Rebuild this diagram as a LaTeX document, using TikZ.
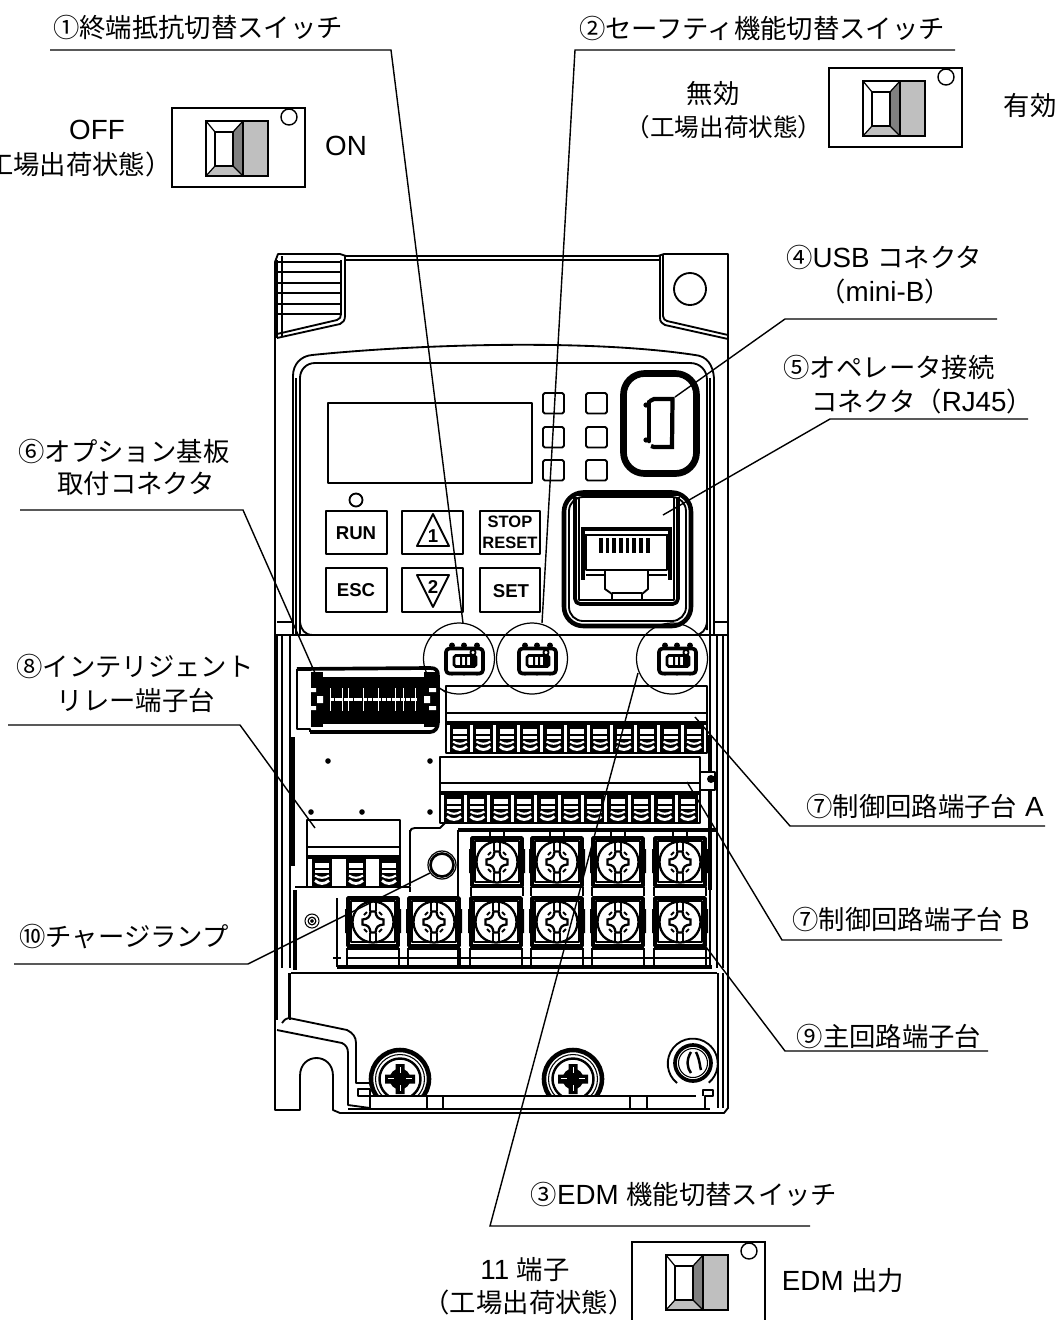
\documentclass[tikz,border=0pt]{standalone}
\usepackage{fontspec}
\setmainfont{Liberation Sans}
\newfontfamily\cjk{Noto Sans CJK JP}
\newcommand{\jp}[1]{{\fontsize{15}{18}\selectfont\cjk #1}}
\newcommand{\jq}[1]{{\fontsize{14}{18}\selectfont\cjk #1}}
\tikzset{
  lbl/.style={inner sep=0pt, font=\fontsize{15.8}{18}\selectfont},
  btn/.style={inner sep=0pt, font=\fontsize{10.6}{12}\selectfont\bfseries},
  btns/.style={inner sep=0pt, font=\fontsize{9.4}{11}\selectfont\bfseries},
  leader/.style={line width=0.8pt},
  body/.style={line width=1.05pt, line join=round},
  thin/.style={line width=0.6pt, line join=round},
  heavy/.style={line width=2.1pt, line join=round},
}
% big slide switch, (#1,#2) is the upper left corner of its box
\newcommand{\bigswitch}[2]{
\begin{scope}[shift={(#1,#2)}]
\draw[line width=0.9pt] (0,0) rectangle (133,79);
\draw[line width=0.8pt] (117,9) circle (8);
\fill[gray!50] (71,13) rectangle (96,68);
\fill[gray!100] (61,24) -- (71,13) -- (71,68) -- (61,58) -- cycle;
\fill[gray!50] (43,58) -- (61,58) -- (71,68) -- (34,68) -- cycle;
\draw[line width=0.9pt] (34,13) rectangle (96,68);
\draw[line width=1.3pt] (34,13) rectangle (71,68);
\draw[line width=0.9pt] (43,24) rectangle (61,58);
\draw[line width=0.7pt] (34,13) -- (43,24) (71,13) -- (61,24) (34,68) -- (43,58) (71,68) -- (61,58);
\end{scope}
}
% small switch in its circle, (#1,#2) is the circle centre
\newcommand{\smallswitch}[2]{
\begin{scope}[shift={(#1,#2)}]
\draw[line width=0.7pt] (0,0) circle (35.5);
\foreach \px in {-7,5,18} {
  \fill (\px,-13) circle (3);
  \fill (\px,14) circle (3);
}
\draw[heavy, fill=white, rounded corners=2] (-13,-10) rectangle (24,15);
\draw[line width=1.5pt, rounded corners=1] (-5,-3) rectangle (17,8);
\fill (1,-3) rectangle (3,8) (6,-3) rectangle (8,8) (11,-3) rectangle (17,8);
\draw[body, fill=white] (14,-6) circle (2.6);
\end{scope}
}
% one cell of a control terminal block, (#1,#2) is its upper left corner
\newcommand{\tmcell}[2]{
\begin{scope}[shift={(#1,#2)}]
\fill (1.5,0) rectangle (22,29);
\fill[white] (5,5) rectangle (19,9.5);
\fill[white] (5,12) rectangle (19,14.5);
\draw[white, line width=1.2pt] (5,17.5) .. controls (9,20.5) and (15,20.5) .. (19,17.5);
\draw[white, line width=1.6pt] (5,22.5) .. controls (9,26.5) and (15,26.5) .. (19,22.5);
\end{scope}
}
% terminal screw of the main circuit block, (#1,#2) is the screw centre
\newcommand{\mainscrew}[2]{
\begin{scope}[shift={(#1,#2)}]
\draw[heavy] (-25,-24) rectangle (25,24);
\draw[thin] (-22,-21) rectangle (22,20);
\fill (-28,-13) rectangle (-25,11) (25,-13) rectangle (28,11);
\draw[line width=1.3pt, fill=white] (0,0) circle (20.5);
\draw[body] (-3,-20) -- (-3,-11) (3,-20) -- (3,-11) (-3,20) -- (-3,11) (3,20) -- (3,11);
\draw[line width=1.3pt, fill=white] (-2.5,-10.5) -- (2.5,-10.5) .. controls (3,-5) and (5,-3) .. (10.5,-2.5) -- (10.5,2.5)
  .. controls (5,3) and (3,5) .. (2.5,10.5) -- (-2.5,10.5) .. controls (-3,5) and (-5,3) .. (-10.5,2.5) -- (-10.5,-2.5)
  .. controls (-5,-3) and (-3,-5) .. (-2.5,-10.5) -- cycle;
\draw[body] (-9,-7) -- (-6,-10) (9,-7) -- (6,-10) (-9,7) -- (-6,10) (9,7) -- (6,10);
\end{scope}
}
% cross head screw of the bottom flange, (#1,#2) is the screw centre
\newcommand{\flangescrew}[2]{
\begin{scope}[shift={(#1,#2)}]
\begin{scope}
\clip (-40,-40) rectangle (40,17);
\draw[line width=2.6pt] (0,0) circle (29);
\draw[thin] (0,0) circle (24.5);
\draw[line width=1.4pt] (0,0) circle (20.5);
\end{scope}
\fill (-15,-4.5) rectangle (15,4.5) (-4.5,-15) rectangle (4.5,15);
\fill (0,0) circle (10.5);
\draw[white, line width=0.5pt] (-12,-1) -- (-6,-1) (6,-1) -- (12,-1) (0,-12) -- (0,-6) (0,6) -- (0,12);
\end{scope}
}
\begin{document}
\begin{tikzpicture}[x=0.02cm,y=-0.02cm]
\useasboundingbox (0,0) rectangle (1059,1320);

% body outline
\draw[body] (275,262) -- (275,1110) -- (300,1110) -- (300,1076) .. controls (300,1052) and (333,1052) .. (333,1076) -- (333,1110) -- (340,1113) -- (724,1113) -- (728,1108) -- (728,254) -- (664,254) -- (658,256) -- (346,256) -- (340,254) -- (278,254) -- cycle;
\draw[body] (277,260) -- (277,338);
\draw[body] (345,260) -- (660,260);
\draw[body] (345,256) -- (345,316) .. controls (345,320) and (343,323) .. (340,324) -- (277,338);
\draw[body] (341,260) -- (341,314) .. controls (341,317) and (340,319) .. (337,320) -- (277,334);
\foreach \hy in {262,272,283,293,304,314} {
  \draw[body] (278,\hy) -- (342,\hy);
}
\draw[body] (282,256) -- (282,336);
% corner with the mounting hole
\draw[body] (660,256) -- (660,318) .. controls (660,322) and (662,323) .. (665,325) -- (728,339);
\draw[body] (663,254) -- (663,316) .. controls (663,319) and (665,320) .. (667,321) -- (728,335);
\draw[body] (690,289) circle (16);

% panel
\draw[body] (293,635) -- (293,376) .. controls (293,364) and (301,356) .. (312,355) .. controls (420,344) and (590,339) .. (695,355) .. controls (707,356) and (713,365) .. (714,378) -- (714,635);
\draw[body] (300,635) -- (300,378) .. controls (300,370) and (306,363) .. (315,363) -- (690,363) .. controls (700,363) and (707,370) .. (707,380) -- (707,630);
\draw[body] (296,378) -- (296,635) (710,378) -- (710,635);
\draw[body] (300,622) .. controls (301,630) and (305,635) .. (313,635);
\draw[body] (707,622) .. controls (706,630) and (702,635) .. (694,635);
\draw[body] (275,635) -- (728,635);
\draw[body] (277,622) -- (293,622) (714,622) -- (728,622);
\draw[body] (328,403) rectangle (532,483);
\foreach \ly in {393,427,460} {
  \draw[body, rounded corners=1] (543,\ly) rectangle (564,\ly+20.5);
  \draw[body, rounded corners=1] (586,\ly) rectangle (607,\ly+20.5);
}
\draw[body] (356,500) circle (6.5);

% keys
\draw[body] (326,511) rectangle (387,554);
\draw[body] (402,511) rectangle (463,554);
\draw[body] (480,511) rectangle (540,554);
\draw[body] (326,568) rectangle (387,612);
\draw[body] (402,568) rectangle (463,612);
\draw[body] (480,568) rectangle (540,612);
\node[btn] (runkey) at (356,533) {RUN};
\node[btn] (esckey) at (356,590) {ESC};
\node[btn] (setkey) at (511,591) {SET};
\node[btns] (stopkey) at (510,522) {STOP};
\node[btns] (resetkey) at (510,543) {RESET};
\draw[body] (433,514) -- (449,546) -- (417,546) -- cycle;
\draw[body] (417,575) -- (449,575) -- (433,607) -- cycle;
\node[btn] (upkey) at (433,536) {1};
\node[btn] (downkey) at (433,587) {2};

% USB connector
\draw[line width=3.8pt, rounded corners=12] (623.5,373.5) rectangle (696.5,473.5);
\draw[line width=2.6pt, line cap=round] (649,402) -- (649,441);
\draw[line width=2.4pt] (651,446) -- (654,447) -- (672,447) -- (672.5,399) -- (654,399) -- (650,401);
\fill (646,405) circle (2.6) (646,440) circle (2.6);

% RJ45 connector
\draw[line width=2.6pt, rounded corners=11] (564,492.5) rectangle (691,626);
\draw[body, rounded corners=8] (569,497) rectangle (686,621);
\draw[heavy, rounded corners=3] (575,497) -- (575,604) -- (678,604) -- (678,497);
\draw[body] (579,497) -- (579,600) -- (674,600) -- (674,497);
\draw[line width=2.4pt] (575,494) -- (680,494);
\draw[heavy] (581,529) -- (672,529);
\draw[line width=2.4pt] (583,530) -- (583,580) (670,530) -- (670,580);
\draw[body] (585,535) -- (668,535);
\draw[body] (586,535) -- (586,570) -- (667,570) -- (667,535);
\foreach \cx in {601,607.5,614,621,627.5,634,641,648} {
  \draw[line width=1.9pt] (\cx,538) -- (\cx,553);
}
\draw[body] (586,575) -- (605,575) (648,575) -- (667,575);
\draw[body] (605,570) -- (605,589) -- (612,594) -- (612,600) (648,570) -- (648,589) -- (642,594) -- (642,600);
\draw[body] (612,593) -- (642,593);

% side walls of the lower part
\foreach \wx in {277,282,290,710,717,723} {
  \draw[body] (\wx,635) -- (\wx,968);
}
\draw[line width=2.2pt] (293,737) -- (293,866) (710,735) -- (710,890);
\draw[body] (290,973) -- (290,1020) (718,973) -- (718,1108) (723,973) -- (723,1108);
\draw[body] (277,968) -- (277,1020);
\draw[body, fill=white] (700,772) rectangle (715,790);
\fill (711,779) circle (4);

% option connector
\draw[heavy] (297,669) -- (430,668) .. controls (436,668) and (438,670) .. (438,676) -- (438,722) .. controls (438,728) and (435,732) .. (430,732) -- (310,732);
\draw[body] (297,669) -- (297,729) -- (310,729) -- (310,732);
\fill (311,672) rectangle (323,727);
\fill (424,672) rectangle (436,727);
\fill (323,677) rectangle (424,724);
\foreach \ox in {330,342,348,363,378,395,403,415} {
  \draw[white, line width=0.3pt] (\ox,688) -- (\ox,711);
}
\draw[white, line width=1.8pt, dash pattern=on 2.2pt off 0.5pt] (330,699.5) -- (417,699.5);
\fill[white] (309,688) rectangle (316,692) (309,706) rectangle (316,710) (429,688) rectangle (436,692) (429,706) rectangle (436,710);
\fill[white] (317,696) rectangle (323,703) (424,696) rectangle (430,703);
\draw[thin] (437,686) -- (445,692);

% control terminal block A
\draw[body] (446,686) rectangle (707,723);
\draw[body] (446,713) -- (707,713);
\foreach \tx in {448,471.4,...,700} {
  \tmcell{\tx}{724}
}
\draw[heavy] (446,723) -- (707,723);
\draw[body] (446,723) -- (446,753) -- (707,753) -- (707,723);
% control terminal block B
\draw[body] (440,757) rectangle (700,793);
\draw[body] (440,783) -- (700,783);
\foreach \tx in {442,465.4,...,693} {
  \tmcell{\tx}{794}
}
\draw[heavy] (440,793) -- (700,793);
\draw[body] (440,793) -- (440,823) -- (700,823) -- (700,793);
\foreach \dx/\dy in {328/761,430/761,311/812,362/812,430/812} {
  \fill (\dx,\dy) circle (2.8);
}
% relay terminal block
\draw[body] (307,820) rectangle (400,857);
\draw[body] (307,847) -- (400,847);
\foreach \tx in {310,344,377} {
  \tmcell{\tx}{858}
}
\draw[heavy] (307,857) -- (400,857);
\draw[body] (307,857) -- (307,886);
\draw[body] (400,857) -- (400,886);
\draw[body] (295,887) -- (410,887) -- (410,892);

% main circuit block
\draw[body] (410,832) .. controls (410,829) and (412,828) .. (415,828) -- (440,828) -- (445,823);
\draw[body] (410,830) -- (410,886);
\draw[heavy] (458,830) -- (717,830);
\draw[body] (458,830) -- (458,898) (458,948) -- (458,967);
\foreach \sx in {497,557,618,680} {
  \mainscrew{\sx}{862}
  \draw[body] (\sx-26,887) -- (\sx+26,887) -- (\sx+26,896);
  \draw[body] (\sx-26,887) -- (\sx-26,896);
  \draw[body] (\sx-7,830) -- (\sx-7,838) (\sx+7,830) -- (\sx+7,838);
}
\foreach \sx in {373,434,496,557,618,680} {
  \mainscrew{\sx}{922}
  \draw[body] (\sx-26,948) -- (\sx-26,967) (\sx+26,948) -- (\sx+26,967);
  \draw[body] (\sx-26,958) -- (\sx+26,958);
  \draw[heavy] (\sx-26,948) -- (\sx+26,948);
}
\foreach \gx in {337,403,465,526,587,649,706} {
  \draw[body] (\gx-4,958) -- (\gx+4,958);
}
\draw[body] (337,898) -- (337,967);
\draw[heavy] (337,967) -- (712,967);
\draw[body] (291,973) -- (717,973);
\draw[line width=2.2pt] (295,890) -- (295,970);
\draw[line width=1.5pt] (442,865) circle (11.5);
\draw[line width=0.7pt] (442,865) circle (14);
\draw[thin] (312,921) circle (7);
\fill (312,921) circle (4.5);
\draw[white, thin] (312,921) circle (2.5);

% lower case and flange
\draw[body] (277,1030) -- (342,1043) .. controls (346,1045) and (348,1048) .. (348,1053) -- (348,1105) -- (370,1108);
\draw[body] (282,1023) .. controls (284,1020) and (285,1019) .. (289,1018) -- (347,1030) .. controls (353,1033) and (356,1037) .. (356,1043);
\draw[body] (289,1018) -- (289,973);
\draw[body] (356,1043) -- (356,1083) -- (370,1083);
\draw[body] (358,1089) -- (370,1089) -- (370,1096) -- (358,1096) -- cycle;
\draw[body] (370,1096) -- (370,1109);
\draw[body] (348,1109) -- (710,1109);
\draw[body] (370,1096) -- (696,1096);
\foreach \sx in {427,443,630,647} {
  \draw[body] (\sx,1096) -- (\sx,1109);
}
\draw[body] (703,1096) -- (703,1090) -- (713,1090) -- (713,1096) -- (705,1096) -- (705,1109);
\flangescrew{400}{1079}
\flangescrew{573}{1079}
\begin{scope}[shift={(693,1063)}]
\draw[body] (-16,20) arc[start angle=129, end angle=410, radius=25];
\draw[heavy] (0,0) circle (18);
\draw[thin] (0,0) circle (14.5);
\draw[line width=1.4pt] (-2,-11) .. controls (-7,-3) and (-6,5) .. (-2,10);
\draw[line width=1.4pt] (3,-11) .. controls (7,-3) and (7,5) .. (8,7);
\end{scope}

% switches
\smallswitch{459}{658.5}
\smallswitch{532}{658.5}
\smallswitch{672}{658.5}
\bigswitch{172}{108}
\bigswitch{829}{68}
\bigswitch{632}{1242}

% labels
\node[lbl] (sw1t) at (198,27) {\jp{①終端抵抗切替スイッチ}};
\node[lbl] (sw2t) at (762,28) {\jp{②セーフティ機能切替スイッチ}};
\node[lbl] (offt) at (97,130) {OFF};
\node[lbl, anchor=east] (offs) at (172,164) {\jp{（工場出荷状態）}};
\node[lbl] (ont) at (346,146) {ON};
\node[lbl] (invt) at (713,94) {\jp{無効}};
\node[lbl] (invs) at (724,127) {\jq{（工場出荷状態）}};
\node[lbl] (ent) at (1030,106) {\jp{有効}};
\node[lbl] (usbt) at (884,257) {\jp{④}USB \jp{コネクタ}};
\node[lbl] (usbs) at (885,291) {\jp{（}mini-B\jp{）}};
\node[lbl] (oprt) at (889,367) {\jp{⑤オペレータ接続}};
\node[lbl] (oprs) at (922,401) {\jp{コネクタ（}RJ45\jp{）}};
\node[lbl] (optt) at (124,451) {\jp{⑥オプション基板}};
\node[lbl] (opts) at (136,484) {\jp{取付コネクタ}};
\node[lbl] (intt) at (135,666) {\jp{⑧インテリジェント}};
\node[lbl] (ints) at (136,700) {\jp{リレー端子台}};
\node[lbl] (tmat) at (925,806) {\jp{⑦制御回路端子台} A};
\node[lbl] (tmbt) at (911,919) {\jp{⑦制御回路端子台} B};
\node[lbl] (maint) at (889,1036) {\jp{⑨主回路端子台}};
\node[lbl] (chgt) at (124,937) {\jp{⑩チャージランプ}};
\node[lbl] (edmt) at (684,1194) {\jp{③}EDM \jp{機能切替スイッチ}};
\node[lbl] (edmo) at (525,1270) {11 \jp{端子}};
\node[lbl] (edms) at (529,1302) {\jp{（工場出荷状態）}};
\node[lbl] (edmn) at (843,1281) {EDM \jp{出力}};

% leaders
\coordinate (ld1a) at (50,50);
\coordinate (ld1b) at (391,50);
\coordinate (ld1c) at (463,623);
\coordinate (ld2a) at (955,50);
\coordinate (ld2b) at (575,50);
\coordinate (ld2c) at (542,623);
\coordinate (ld3a) at (810,1226);
\coordinate (ld3b) at (490,1226);
\coordinate (ld3c) at (638,673);
\coordinate (ld4a) at (997,319);
\coordinate (ld4b) at (785,319);
\coordinate (ld4c) at (675,397);
\coordinate (ld5a) at (1028,419);
\coordinate (ld5b) at (830,419);
\coordinate (ld5c) at (663,515);
\coordinate (ld6a) at (20,510);
\coordinate (ld6b) at (243,510);
\coordinate (ld6c) at (315,673);
\coordinate (ld7a) at (1045,826);
\coordinate (ld7b) at (790,826);
\coordinate (ld7c) at (695,717);
\coordinate (ld8a) at (1002,940);
\coordinate (ld8b) at (782,940);
\coordinate (ld8c) at (687,782);
\coordinate (ld9a) at (8,725);
\coordinate (ld9b) at (240,725);
\coordinate (ld9c) at (315,828);
\coordinate (ld10a) at (988,1051);
\coordinate (ld10b) at (785,1051);
\coordinate (ld10c) at (703,943);
\coordinate (ld11a) at (14,964);
\coordinate (ld11b) at (248,964);
\coordinate (ld11c) at (430,873);
\foreach \ld in {ld1,ld2,ld3,ld4,ld5,ld6,ld7,ld8,ld9,ld10,ld11} {
  \draw[leader] (\ld a) -- (\ld b) -- (\ld c);
}
\end{tikzpicture}
\end{document}
